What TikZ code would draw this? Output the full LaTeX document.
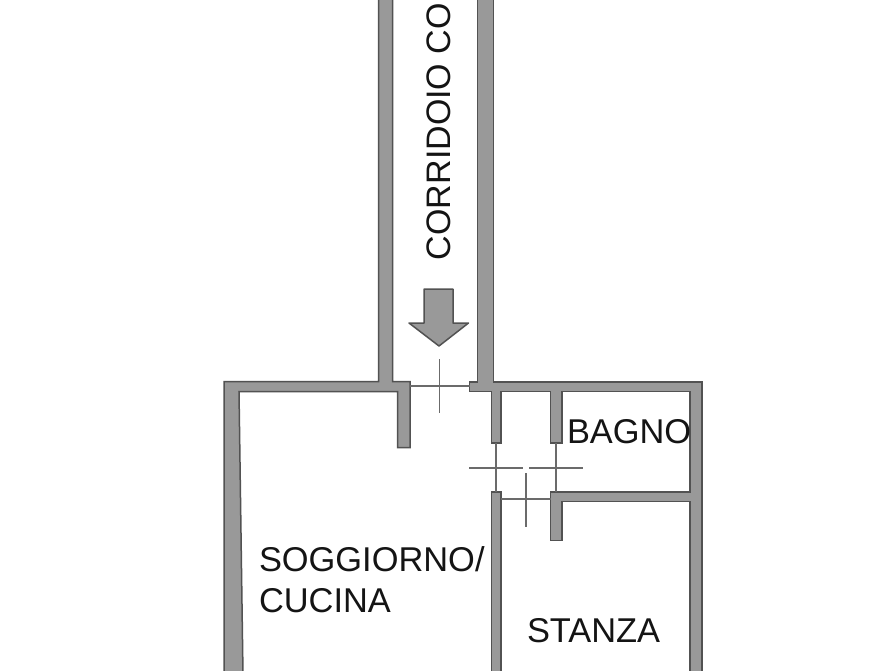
\documentclass[tikz,border=0pt]{standalone}
\usepackage{fontspec}
\setmainfont{Liberation Sans}
\definecolor{wallfill}{gray}{0.60}
\definecolor{wallline}{gray}{0.32}
\definecolor{doorline}{gray}{0.42}
\definecolor{labelink}{gray}{0.08}
\tikzset{
  wall/.style={fill=wallfill,draw=wallline,line width=1.5pt,line join=miter},
  doorswing/.style={draw=doorline,line width=1.2pt},
  roomlabel/.style={inner sep=0pt,outer sep=0pt,text=labelink,font=\fontsize{34.4}{38}\selectfont},
  corridorlabel/.style={inner sep=0pt,outer sep=0pt,text=labelink,font=\fontsize{34}{38}\selectfont},
  flowarrow/.style={fill=wallfill,draw=wallline,line width=1.5pt,line join=round}
}
\begin{document}
\begin{tikzpicture}[x=1pt,y=-1pt]
\useasboundingbox (0,0) rectangle (893,670);
\fill[white] (0,0) rectangle (893,670);
% corridor + left room walls
\draw[wall] (224,675) -- (224,381.5) -- (378.5,381.5) -- (378.5,-5) -- (392.5,-5) -- (392.5,381.5) -- (410,381.5) -- (410,447.5) -- (397.5,447.5) -- (397.5,391.5) -- (239,391.5) -- (243,675) -- cycle;
% right block walls
\draw[wall] (477.5,-5) -- (493.5,-5) -- (493.5,382) -- (702,382) -- (702,675) -- (690,675) -- (690,501.5) -- (562,501.5) -- (562,540.5) -- (550.5,540.5) -- (550.5,492) -- (690,492) -- (690,391.5) -- (562,391.5) -- (562,443) -- (550.5,443) -- (550.5,391.5) -- (501,391.5) -- (501,443) -- (491.5,443) -- (491.5,391.5) -- (469.5,391.5) -- (469.5,382) -- (477.5,382) -- cycle;
\draw[wall] (491.5,675) -- (491.5,492) -- (501,492) -- (501,675) -- cycle;
% door symbols
\draw[doorswing] (410,386) -- (469.5,386);
\draw[doorswing] (439.5,359) -- (439.5,413);
\draw[doorswing] (496,443) -- (496,492);
\draw[doorswing] (556,443) -- (556,492);
\draw[doorswing] (501,499) -- (550.5,499);
\draw[doorswing] (469,468) -- (523,468);
\draw[doorswing] (529,468) -- (583,468);
\draw[doorswing] (526,473) -- (526,527);
% arrow
\draw[flowarrow] (424,289) -- (453,289) -- (453,323) -- (468.5,323) -- (439,346) -- (409,323) -- (424,323) -- cycle;
% labels
\node[corridorlabel,anchor=base west,rotate=90] (corridor) at (450.5,260) {CORRIDOIO CO};
\node[roomlabel,anchor=base west] (bagno) at (567,443) {BAGNO};
\node[roomlabel,anchor=base west] (soggiorno) at (259,571.5) {SOGGIORNO/};
\node[roomlabel,anchor=base west] (cucina) at (259,612.5) {CUCINA};
\node[roomlabel,anchor=base west] (stanza) at (527,642.5) {STANZA};
\end{tikzpicture}
\end{document}
